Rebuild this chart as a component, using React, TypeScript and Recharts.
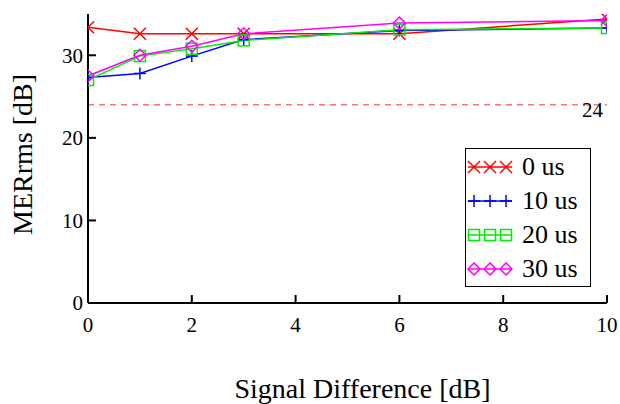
import React from 'react';
import { LineChart, Line, XAxis, YAxis, ReferenceLine, Legend } from 'recharts';

const signalDiff = [0, 1, 2, 3, 6, 10];
const mer0us = [33.4, 32.6, 32.6, 32.6, 32.6, 34.4];
const mer10us = [27.3, 27.8, 29.9, 31.9, 33.0, 33.3];
const mer20us = [27.0, 29.9, 30.8, 31.8, 33.1, 33.3];
const mer30us = [27.5, 30.0, 31.1, 32.6, 33.9, 34.2];
const xTicks = [0, 2, 4, 6, 8, 10];
const yTicks = [0, 10, 20, 30];
const threshold = 24;
const seriesNames = ['0 us', '10 us', '20 us', '30 us'];
const seriesKeys = ['s0', 's10', 's20', 's30'];
const seriesColors = ['#ff0000', '#0000ff', '#00ee00', '#ff00ff'];
const seriesMarkers = ['cross', 'plus', 'square', 'diamond'];

const data = signalDiff.map((x, i) => ({
  x,
  s0: mer0us[i],
  s10: mer10us[i],
  s20: mer20us[i],
  s30: mer30us[i],
}));

const FONT = '"Liberation Serif", "Times New Roman", serif';

function Marker({ kind, cx, cy, color }: { kind: string; cx: number; cy: number; color: string }) {
  const r = 6;
  if (kind === 'cross') {
    return (
      <g stroke={color} strokeWidth={1.5} fill="none">
        <line x1={cx - r} y1={cy - r} x2={cx + r} y2={cy + r} />
        <line x1={cx - r} y1={cy + r} x2={cx + r} y2={cy - r} />
      </g>
    );
  }
  if (kind === 'plus') {
    return (
      <g stroke={color} strokeWidth={1.5} fill="none">
        <line x1={cx - r} y1={cy} x2={cx + r} y2={cy} />
        <line x1={cx} y1={cy - r} x2={cx} y2={cy + r} />
      </g>
    );
  }
  if (kind === 'square') {
    const s = 5.5;
    return <rect x={cx - s} y={cy - s} width={2 * s} height={2 * s} stroke={color} strokeWidth={1.5} fill="none" />;
  }
  return (
    <polygon
      points={`${cx},${cy - r} ${cx + r},${cy} ${cx},${cy + r} ${cx - r},${cy}`}
      stroke={color}
      strokeWidth={1.5}
      fill="none"
    />
  );
}

function makeDot(kind: string, color: string) {
  return (props: any) => {
    const { cx, cy, index } = props;
    if (cx == null || cy == null) return <g key={index} />;
    return <Marker key={index} kind={kind} cx={cx} cy={cy} color={color} />;
  };
}

function LegendBox() {
  return (
    <div
      style={{
        width: 126,
        height: 139,
        boxSizing: 'border-box',
        border: '1.5px solid #000',
        background: '#fff',
        paddingTop: 1,
        fontFamily: FONT,
        fontSize: 26,
        color: '#000',
      }}
    >
      {seriesNames.map((name, i) => (
        <div key={name} style={{ height: 34, display: 'flex', alignItems: 'center' }}>
          <svg width={56} height={20} style={{ flex: 'none' }}>
            <line x1={2} y1={10} x2={46} y2={10} stroke={seriesColors[i]} strokeWidth={1.5} />
            {[8, 24, 40].map((mx) => (
              <Marker key={mx} kind={seriesMarkers[i]} cx={mx} cy={10} color={seriesColors[i]} />
            ))}
          </svg>
          <span style={{ lineHeight: '26px' }}>{name}</span>
        </div>
      ))}
    </div>
  );
}

export default function App() {
  return (
    <div style={{ position: 'absolute', left: 0, top: 0, width: 620, height: 404, background: '#fff' }}>
      <LineChart width={620} height={404} data={data} margin={{ top: 14, right: 13, left: 28, bottom: 61 }}>
        <XAxis
          dataKey="x"
          type="number"
          domain={[0, 10]}
          ticks={xTicks}
          allowDataOverflow
          interval={0}
          height={40}
          stroke="#000"
          strokeWidth={2}
          tickSize={-8}
          tickMargin={22}
          tick={{ fill: '#000', fontSize: 21, fontFamily: FONT }}
          label={{
            content: (p: any) => {
              const vb = p.viewBox || { x: 88, y: 303, width: 519 };
              return (
                <text
                  x={vb.x + vb.width / 2 + 15}
                  y={vb.y + 95}
                  textAnchor="middle"
                  fontFamily={FONT}
                  fontSize={28}
                  fill="#000"
                >
                  Signal Difference [dB]
                </text>
              );
            },
          }}
        />
        <XAxis
          xAxisId="top"
          dataKey="x"
          type="number"
          orientation="top"
          domain={[0, 10]}
          ticks={xTicks}
          height={0}
          stroke="#000"
          strokeWidth={2}
          tickSize={-8}
          tick={false}
        />
        <YAxis
          type="number"
          domain={[0, 35]}
          ticks={yTicks}
          allowDataOverflow
          width={60}
          stroke="#000"
          strokeWidth={2}
          tickSize={-8}
          tickMargin={13}
          tick={{ fill: '#000', fontSize: 21, fontFamily: FONT }}
          label={{
            content: (p: any) => {
              const vb = p.viewBox || { x: 28, y: 14, height: 289 };
              const cx = 22;
              const cy = vb.y + vb.height / 2 - 4;
              return (
                <text
                  x={cx}
                  y={cy}
                  transform={`rotate(-90, ${cx}, ${cy})`}
                  textAnchor="middle"
                  dominantBaseline="central"
                  fontFamily={FONT}
                  fontSize={28}
                  fill="#000"
                >
                  MERrms [dB]
                </text>
              );
            },
          }}
        />
        <YAxis
          yAxisId="right"
          orientation="right"
          type="number"
          domain={[0, 35]}
          ticks={yTicks}
          width={0}
          stroke="#000"
          strokeWidth={2}
          tickSize={-8}
          tick={false}
        />
        <ReferenceLine
          y={threshold}
          stroke="#ff3030"
          strokeWidth={1}
          strokeDasharray="6 5"
          label={{
            content: (p: any) => {
              const vb = p.viewBox;
              if (!vb) return null;
              return (
                <text
                  x={vb.x + vb.width - 4}
                  y={vb.y + 12}
                  textAnchor="end"
                  fontFamily={FONT}
                  fontSize={21}
                  fill="#000"
                >
                  {String(threshold)}
                </text>
              );
            },
          }}
        />
        {seriesKeys.map((k, i) => (
          <Line
            key={k}
            dataKey={k}
            name={seriesNames[i]}
            stroke={seriesColors[i]}
            strokeWidth={1.5}
            isAnimationActive={false}
            dot={makeDot(seriesMarkers[i], seriesColors[i])}
            activeDot={false}
          />
        ))}
        <Legend
          layout="vertical"
          align="center"
          verticalAlign="middle"
          wrapperStyle={{ left: 465, top: 148, width: 126, height: 139 }}
          content={() => <LegendBox />}
        />
      </LineChart>
    </div>
  );
}
